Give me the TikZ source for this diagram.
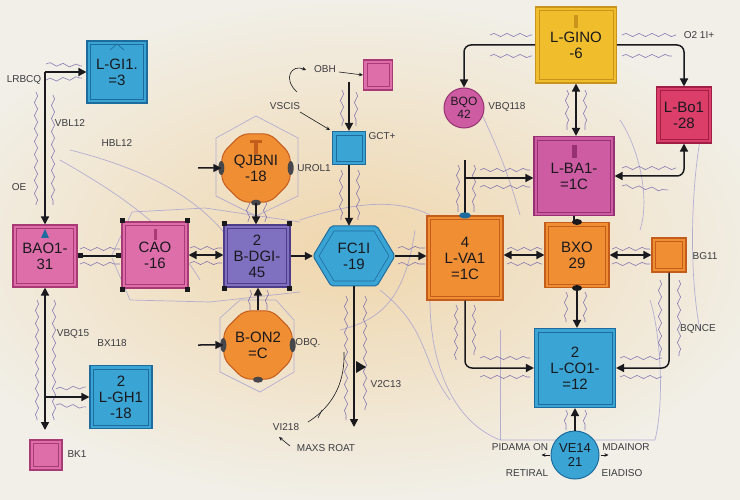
\documentclass[tikz,border=0pt]{standalone}
\usepackage{fontspec}
\setmainfont{Liberation Sans}
\usetikzlibrary{arrows.meta,shapes.geometric,decorations.pathmorphing,calc}
\definecolor{bg}{RGB}{241,239,231}
\definecolor{peach}{RGB}{240,214,172}
\definecolor{cblue}{RGB}{58,165,212}
\definecolor{cbluedk}{RGB}{30,108,158}
\definecolor{cpink}{RGB}{222,110,170}
\definecolor{cpinkdk}{RGB}{168,58,118}
\definecolor{cpurple}{RGB}{128,112,192}
\definecolor{cpurpledk}{RGB}{78,62,138}
\definecolor{corange}{RGB}{240,142,52}
\definecolor{corangedk}{RGB}{196,92,28}
\definecolor{cyellow}{RGB}{240,190,45}
\definecolor{cyellowdk}{RGB}{200,148,28}
\definecolor{cmag}{RGB}{206,92,162}
\definecolor{cmagdk}{RGB}{150,50,115}
\definecolor{cred}{RGB}{218,62,105}
\definecolor{creddk}{RGB}{160,30,70}
\definecolor{lav}{RGB}{160,155,210}
\definecolor{wig}{RGB}{110,95,170}
\definecolor{ink}{RGB}{25,25,30}
\begin{document}
\begin{tikzpicture}[x=1pt,y=-1pt,
  line/.style={draw=ink, line width=1.5pt},
  arr/.style={line, -{Triangle[length=8pt,width=8pt]}},
  darr/.style={line, {Triangle[length=8pt,width=8pt]}-{Triangle[length=8pt,width=8pt]}},
  sqarr/.style={line, {Square[length=5pt,width=5pt]}-{Square[length=5pt,width=5pt]}},
  thinarr/.style={draw=ink, line width=0.6pt, -{Stealth[length=4pt,width=3.5pt]}},
  lab/.style={font=\fontsize{10}{11}\selectfont, text=ink!85, inner sep=1pt},
  faint/.style={draw=lav, line width=0.7pt, opacity=0.75},
  wiggle/.style={draw=wig, line width=0.6pt, opacity=0.8, decorate, decoration={snake, amplitude=1.6pt, segment length=13pt}},
  box/.style 2 args={rectangle, fill=#1, draw=#2, line width=1.1pt, inner sep=0pt, align=center, text=ink,
    font=\fontsize{15}{16}\selectfont,
    path picture={\draw[#2, line width=0.6pt] ([shift={(3.5pt,-3.5pt)}]path picture bounding box.north west) rectangle ([shift={(-3.5pt,3.5pt)}]path picture bounding box.south east);}},
  oct/.style={regular polygon, regular polygon sides=8, minimum size=74pt, fill=corange, draw=corangedk, line width=1pt, rounded corners=7pt, inner sep=0pt, align=center, text=ink, font=\fontsize{15}{16}\selectfont},
  circ/.style 2 args={circle, fill=#1, draw=#2, line width=1pt, inner sep=0pt, align=center, text=ink, font=\fontsize{12}{12.5}\selectfont},
  corner/.style={fill=ink, minimum size=4.5pt, inner sep=0pt, rectangle}
]
% background
\fill[bg] (0,0) rectangle (740,500);
\useasboundingbox (0,0) rectangle (740,500);
\shade[inner color=peach, outer color=bg] (350,250) ellipse (430 and 250);

% faint network lines
\draw[faint] (256,116) -- (298,138) -- (298,196) -- (256,216) -- (216,196) -- (216,138) -- cycle;
\draw[faint] (240,300) -- (276,300) -- (294,320) -- (294,372) -- (260,392) -- (220,372) -- (220,318) -- cycle;
\draw[faint] (112,255) -- (132,212) -- (205,208) -- (300,222);
\draw[faint] (112,258) -- (130,300) -- (210,302) -- (300,292);
\draw[faint] (70,150) .. controls (150,170) and (200,200) .. (230,240);
\draw[faint] (60,160) .. controls (130,200) and (170,230) .. (200,280);
\draw[faint] (300,220) .. controls (360,200) and (400,200) .. (430,215);
\draw[faint] (380,290) .. controls (430,330) and (420,360) .. (450,400);
\draw[faint] (430,300) .. controls (430,360) and (450,420) .. (500,440) -- (655,440) .. controls (665,400) and (660,330) .. (650,300);
\draw[faint] (500,330) -- (500,440);
\draw[faint] (470,90) .. controls (500,150) and (510,180) .. (520,215);
\draw[faint] (700,140) .. controls (690,200) and (690,280) .. (700,330);
\draw[faint] (415,230) .. controls (405,300) and (380,320) .. (340,330);
\draw[faint] (620,120) .. controls (640,150) and (650,200) .. (640,230);

% wiggles
\foreach \a/\b in {{(46,64)/(82,66)},{(46,80)/(82,78)},{(36,92)/(36,205)},{(53,95)/(53,205)},{(37,300)/(37,420)},{(54,300)/(54,420)},
  {(56,389)/(86,387)},{(56,405)/(86,407)},{(80,249)/(120,249)},{(80,264)/(120,264)},{(190,248)/(222,248)},{(190,263)/(222,263)},
  {(342,90)/(342,126)},{(356,92)/(356,126)},{(341,170)/(341,220)},{(358,170)/(358,220)},{(346,296)/(346,420)},{(365,296)/(365,410)},
  {(398,248)/(425,248)},{(398,264)/(425,264)},{(490,35)/(532,35)},{(490,56)/(532,56)},{(622,35)/(676,35)},{(622,56)/(672,56)},
  {(567,90)/(567,130)},{(585,90)/(585,130)},{(458,165)/(458,212)},{(474,165)/(474,212)},{(480,170)/(530,170)},{(480,187)/(530,187)},
  {(622,168)/(676,168)},{(622,186)/(668,190)},{(507,249)/(542,249)},{(507,264)/(542,264)},{(612,249)/(650,249)},{(612,264)/(650,264)},
  {(456,305)/(456,360)},{(474,305)/(474,355)},{(480,358)/(530,358)},{(480,377)/(530,377)},{(566,292)/(566,322)},{(585,292)/(585,322)},
  {(660,280)/(660,356)},{(679,280)/(679,356)},{(620,358)/(662,358)},{(620,377)/(662,377)},{(566,410)/(566,430)},{(585,410)/(585,430)},
  {(248,200)/(248,222)},{(265,200)/(265,222)},{(250,290)/(250,310)},{(267,290)/(267,310)}}
  {\draw[wiggle] \a -- \b;}

% nodes
\node[box={cblue}{cbluedk}, minimum width=60pt, minimum height=62pt] (lgi) at (117,72) {L-GI1.\\=3};
\node[box={cpink}{cpinkdk}, minimum width=64pt, minimum height=62pt] (bao) at (45,256) {BAO1-\\31};
\node[box={cpink}{cpinkdk}, minimum width=66pt, minimum height=66pt] (cao) at (155,255) {CAO\\-16};
\node[box={cpurple}{cpurpledk}, minimum width=66pt, minimum height=62pt] (bdg) at (257,256) {2\\B-DGI-\\45};
\node[oct] (qjb) at (256,168) {QJBNI\\-18};
\node[oct] (bon) at (258,345) {B-ON2\\=C};
\draw[fill=cblue, draw=cbluedk, line width=1pt, rounded corners=2pt] (313,256) -- (331,226) -- (377,226) -- (395,256) -- (377,286) -- (331,286) -- cycle;
\draw[cbluedk, line width=0.6pt] (319,256) -- (334,231) -- (374,231) -- (389,256) -- (374,281) -- (334,281) -- cycle;
\node[rectangle, minimum width=82pt, minimum height=60pt, inner sep=0pt, align=center, text=ink, font=\fontsize{15}{16}\selectfont] (fc) at (354,256) {FC1I\\-19};
\node[box={cblue}{cbluedk}, minimum width=33pt, minimum height=33pt] (gct) at (349,148) {};
\node[box={cpink}{cpinkdk}, minimum width=29pt, minimum height=30pt] (pk1) at (378,75) {};
\node[box={cyellow}{cyellowdk}, minimum width=81pt, minimum height=76pt] (lgino) at (576,45) {L-GINO\\-6};
\node[circ={cmag}{cmagdk}, minimum size=40pt] (bqo) at (464,108) {BQO\\42};
\node[box={cred}{creddk}, minimum width=55pt, minimum height=56pt] (lbo) at (684,115) {L-Bo1\\-28};
\node[box={cmag}{cmagdk}, minimum width=80pt, minimum height=79pt] (lba) at (574,176) {L-BA1-\\=1C};
\node[box={corange}{corangedk}, minimum width=76pt, minimum height=84pt] (lva) at (465,258) {4\\L-VA1\\=1C};
\node[box={corange}{corangedk}, minimum width=64pt, minimum height=65pt] (bxo) at (577,255) {BXO\\29};
\node[box={corange}{corangedk}, minimum width=34pt, minimum height=34pt] (bg) at (669,255) {};
\node[box={cblue}{cbluedk}, minimum width=81pt, minimum height=79pt] (lco) at (575,368) {2\\L-CO1-\\=12};
\node[circ={cblue}{cbluedk}, minimum size=48pt, font=\fontsize{13}{14}\selectfont] (ve) at (575,455) {VE14\\21};
\node[box={cblue}{cbluedk}, minimum width=62pt, minimum height=63pt] (lgh) at (121,397) {2\\L-GH1\\-18};
\node[box={cpink}{cpinkdk}, minimum width=32pt, minimum height=30pt] (pk2) at (46,455) {};

% corner squares
\foreach \n in {cao,bdg}{
  \node[corner] at ([shift={(-1pt,1pt)}]\n.north east) {};
  \node[corner] at ([shift={(1pt,1pt)}]\n.north west) {};
  \node[corner] at ([shift={(-1pt,-1pt)}]\n.south east) {};
  \node[corner] at ([shift={(1pt,-1pt)}]\n.south west) {};
}

% small glyphs on nodes
\fill[cbluedk] (45,229) -- (49,238) -- (41,238) -- cycle;
\fill[cpinkdk] (154,229) rectangle (157,240);
\fill[corangedk] (250,140) rectangle (262,143);
\fill[corangedk] (254,143) rectangle (258,154);
\fill[cyellowdk] (574,15) rectangle (578,28);
\fill[cmagdk] (572,145) rectangle (577,158);
\draw[cbluedk, line width=0.7pt] (110,50) -- (117,44) -- (124,50);
\fill[ink!80] (qjb.west) ellipse (3 and 7);
\fill[ink!80] (qjb.east) ellipse (3 and 7);
\fill[ink!80] (bon.west) ellipse (3 and 7);
\fill[ink!80] (bon.east) ellipse (3 and 7);
\fill[ink!80] (bon.south) ellipse (5 and 3);
\fill[ink!80] (qjb.south) ellipse (5 and 3);

% connectors
\coordinate (c1) at (45,72);
\draw[arr] (c1) -- (lgi.west);
\draw[arr] (c1) -- (bao.north);
\coordinate (c2) at (45,430);
\coordinate (c3) at (45,397);
\draw[darr] (bao.south) -- (c2);
\draw[arr] (c3) -- (lgh.west);
\draw[sqarr] (bao.east) -- (bao.east -| cao.west);
\draw[darr] (cao.east) -- (cao.east -| bdg.west);
\draw[arr] (qjb.south) -- (qjb.south |- bdg.north);
\draw[arr] (bon.north) -- (bon.north |- bdg.south);
\coordinate (q0) at (198,168);
\draw[arr] (q0) -- (qjb.west);
\coordinate (b0) at (198,345);
\draw[arr] (b0) -- (bon.west);
\draw[arr] (bdg.east) -- (bdg.east -| fc.west);
\draw[arr] (fc.east) -- (fc.east -| lva.west);
\coordinate (g0) at (349,82);
\draw[arr] (g0) -- (gct.north);
\draw[arr] (gct.south) -- (gct.south |- fc.north);
\coordinate (f1) at (354,427);
\draw[arr] (fc.south) -- (f1);
\fill[ink] (356,361) -- (366,367) -- (356,373) -- cycle;
\draw[arr, rounded corners=7pt] (lgino.west) -| (bqo.north);
\draw[arr, rounded corners=7pt] (lgino.east) -| (lbo.north);
\draw[darr] (lgino.south) -- (lgino.south |- lba.north);
\draw[darr, rounded corners=7pt] (lba.east) -| (lbo.south);
\coordinate (v0) at (465,160);
\coordinate (v1) at (465,178);
\draw[line] (v0) -- (lva.north);
\fill[cbluedk] (lva.north) ellipse (6 and 3);
\draw[arr] (v1) -- (v1 -| lba.west);
\draw[line] (lba.south) -- (lba.south |- bxo.north);
\fill[ink] (bxo.north) ellipse (5 and 3);
\fill[ink] (bxo.south) ellipse (5 and 3);
\draw[darr] (bxo.west -| lva.east) -- (bxo.west);
\draw[darr] (bxo.east) -- (bg.west);
\draw[arr, rounded corners=7pt] (lva.south) |- (lco.west);
\draw[arr] (bxo.south) -- (bxo.south |- lco.north);
\draw[arr, rounded corners=7pt] (bg.south) |- (lco.east);
\draw[arr] (ve.north) -- (lco.south);
\draw[thinarr] ([xshift=-1pt]ve.west) -- ++(-8pt,0pt);
\draw[thinarr] ([xshift=1pt]ve.east) -- ++(8pt,0pt);

% thin annotation arrows
\draw[thinarr] (339,72) -- (pk1.west);
\draw[thinarr] (297,92) .. controls (282,78) and (292,64) .. (306,70);
\draw[thinarr] (300,112) -- (330,130);
\draw[draw=ink, line width=0.6pt] (308,422) .. controls (335,405) and (345,380) .. (344,352);
\draw[draw=ink, line width=0.6pt] (318,418) -- (322,410);
\draw[thinarr] (290,446) -- (279,437);

% labels
\node[lab] (t1) at (24,80) {LRBCQ};
\node[lab] (t2) at (70,123) {VBL12};
\node[lab] (t3) at (117,143) {HBL12};
\node[lab] (t4) at (19,187) {OE};
\node[lab] (t5) at (73,334) {VBQ15};
\node[lab] (t6) at (112,343) {BX118};
\node[lab] (t7) at (77,454) {BK1};
\node[lab] (t8) at (325,69) {OBH};
\node[lab] (t9) at (285,106) {VSCIS};
\node[lab] (t10) at (314,168) {UROL1};
\node[lab] (t11) at (382,136) {GCT+};
\node[lab] (t12) at (308,343) {OBQ.};
\node[lab] (t13) at (386,384) {V2C13};
\node[lab] (t14) at (286,427) {VI218};
\node[lab] (t15) at (326,448) {MAXS ROAT};
\node[lab] (t16) at (699,35) {O2 1I+};
\node[lab] (t17) at (507,107) {VBQ118};
\node[lab] (t18) at (705,256) {BG11};
\node[lab] (t19) at (698,329) {BQNCE};
\node[lab] (t20) at (520,447) {PIDAMA ON};
\node[lab] (t21) at (527,473) {RETIRAL};
\node[lab] (t22) at (626,447) {MDAINOR};
\node[lab] (t23) at (622,473) {EIADISO};
\end{tikzpicture}
\end{document}
